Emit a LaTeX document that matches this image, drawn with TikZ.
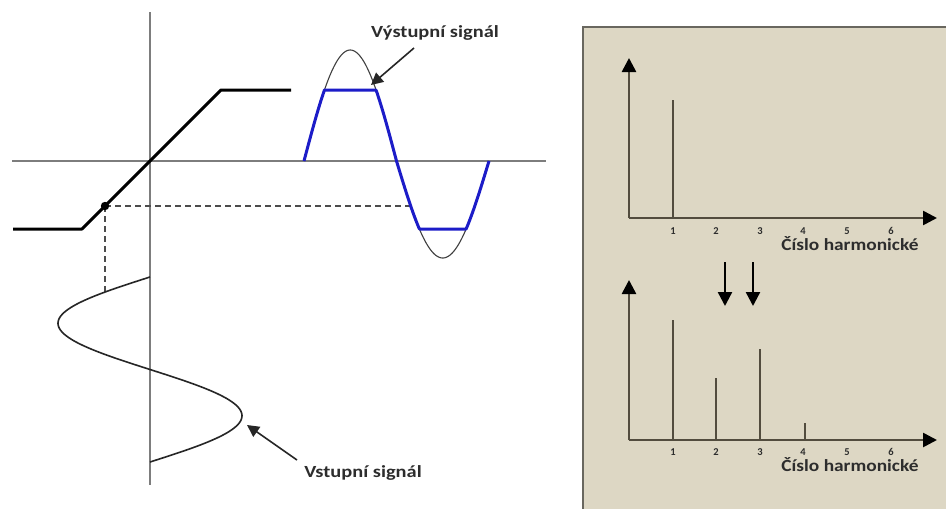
\documentclass[tikz,border=0pt]{standalone}
\usepackage{fontspec}
\setmainfont{Carlito}
\usepackage{graphicx}
\usetikzlibrary{arrows.meta}
\definecolor{boxfill}{RGB}{221,215,196}
\definecolor{boxline}{RGB}{105,103,95}
\definecolor{axbrown}{RGB}{82,76,62}
\definecolor{sigblue}{RGB}{28,28,200}
\definecolor{axgray}{RGB}{125,125,125}
\definecolor{txt}{RGB}{45,45,45}
\newcommand\stretchtext[2]{\scalebox{#1}[1]{#2}}
\tikzset{
  lbl/.style={inner sep=0pt, text=txt, font=\fontsize{17}{20}\selectfont\bfseries},
  ticklbl/.style={inner sep=0pt, text=txt, font=\fontsize{10.5}{12}\selectfont\bfseries},
  harmlbl/.style={inner sep=0pt, text=txt, font=\fontsize{17}{20}\selectfont\bfseries},
  axisline/.style={axgray, line width=1.3},
  transfer/.style={black, line width=3, line join=round},
  dashline/.style={black!70, line width=1.6, dash pattern=on 6pt off 4pt},
  pointer/.style={black!85, line width=1.6, -{Triangle[length=12,width=12]}},
  chartaxis/.style={axbrown, line width=2.6, -{Triangle[length=14,width=14,color=black]}},
  bar/.style={axbrown, line width=2.4},
  downarrow/.style={black, line width=2.4, -{Triangle[length=14,width=14]}}
}
\begin{document}
\begin{tikzpicture}[x=1pt,y=-1pt]
\useasboundingbox (0,0) rectangle (946,509);
\clip (0,0) rectangle (946,509);
\fill[white] (0,0) rectangle (946,509);

% ---- left panel axes
\coordinate (vtop) at (150,12);
\coordinate (vbot) at (150,485);
\coordinate (hl) at (12,161);
\coordinate (hr) at (546,161);
\draw[axisline] (vtop) -- (vbot);
\draw[axisline] (hl) -- (hr);

% ---- transfer characteristic
\coordinate (t0) at (13,229);
\coordinate (t1) at (82,229);
\coordinate (t2) at (221,90);
\coordinate (t3) at (291,90);
\draw[transfer] (t0) -- (t1) -- (t2) -- (t3);

% ---- operating point and projections
\coordinate (dot) at (105,206);
\coordinate (dashH) at (412,206);
\coordinate (dashV) at (105,292);
\draw[dashline] (dot) -- (dashH);
\draw[dashline] (dot) -- (dashV);
\fill (dot) circle (4.2);

% ---- input signal (vertical sine)
\draw[black!85, line width=1.6, domain=0:185, samples=120, smooth]
  plot ({150 - 92*sin(1.945946*\x)}, {277+\x});

% ---- output signal: ideal sine (thin) and clipped (blue)
\draw[black!75, line width=1.1, domain=0:185, samples=150, smooth]
  plot ({304+\x}, {161 - ((\x<92.5) ? 111 : 97)*sin(1.945946*\x)});
\draw[sigblue, line width=3, line join=round, domain=0:185, samples=300]
  plot ({304+\x}, {max(90, min(229, 161 - ((\x<92.5) ? 111 : 97)*sin(1.945946*\x)))});

% ---- labels with pointers
\node[lbl] (outlbl) at (435,33) {\stretchtext{1.2}{Výstupní signál}};
\coordinate (outtail) at (414,48);
\coordinate (outtip) at (371,85);
\draw[pointer] (outtail) -- (outtip);

\node[lbl] (inlbl) at (363,473) {\stretchtext{1.2}{Vstupní signál}};
\coordinate (intail) at (297,460);
\coordinate (intip) at (247,425);
\draw[pointer] (intail) -- (intip);

% ---- right panel box
\draw[boxline, line width=2, fill=boxfill] (583,27) rectangle (970,530);

% ---- top spectrum
\coordinate (o1) at (629,218);
\coordinate (y1) at (629,58);
\coordinate (x1) at (937,218);
\draw[chartaxis] (o1) -- (y1);
\draw[chartaxis] (o1) -- (x1);
\coordinate (b11) at (673,218);
\coordinate (b11t) at (673,100);
\draw[bar] (b11) -- (b11t);
\foreach \n/\xx in {1/673,2/716,3/760,4/803,5/847,6/891}
  \node[ticklbl] (ta\n) at (\xx,231) {\n};
\node[harmlbl] (harm1) at (850,244) {\stretchtext{1.14}{Číslo harmonické}};

% ---- arrows between spectra
\coordinate (d1s) at (725,262);
\coordinate (d1e) at (725,306);
\coordinate (d2s) at (753,262);
\coordinate (d2e) at (753,306);
\draw[downarrow] (d1s) -- (d1e);
\draw[downarrow] (d2s) -- (d2e);

% ---- bottom spectrum
\coordinate (o2) at (629,440);
\coordinate (y2) at (629,280);
\coordinate (x2) at (937,440);
\draw[chartaxis] (o2) -- (y2);
\draw[chartaxis] (o2) -- (x2);
\foreach \xx/\yy [count=\k] in {673/320,716/378,760/349,805/423}{
  \coordinate (b2\k) at (\xx,440);
  \coordinate (b2\k t) at (\xx,\yy);
  \draw[bar] (b2\k) -- (b2\k t);
}
\foreach \n/\xx in {1/673,2/716,3/760,4/803,5/847,6/891}
  \node[ticklbl] (tb\n) at (\xx,452) {\n};
\node[harmlbl] (harm2) at (850,465) {\stretchtext{1.14}{Číslo harmonické}};
\end{tikzpicture}
\end{document}
